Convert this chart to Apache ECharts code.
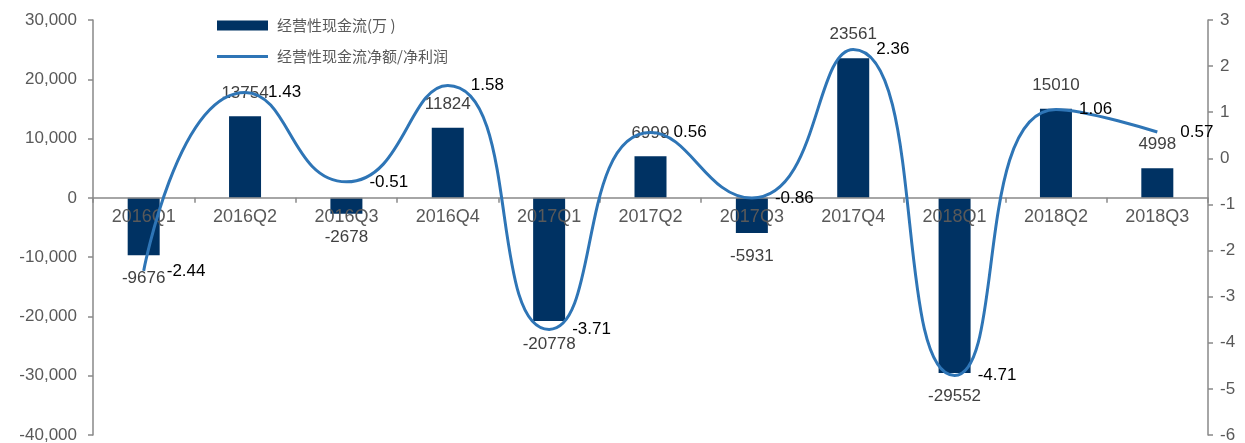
<!DOCTYPE html>
<html>
<head>
<meta charset="utf-8">
<script src="https://cdn.jsdelivr.net/npm/echarts@6/dist/echarts.min.js"></script>
<style>
html,body{margin:0;padding:0;background:#fff;}
#chart{width:1245px;height:443px;}
</style>
</head>
<body>
<div id="chart"></div>
<script>
const categories = ['2016Q1','2016Q2','2016Q3','2016Q4','2017Q1','2017Q2','2017Q3','2017Q4','2018Q1','2018Q2','2018Q3'];
const cashFlow = [-9676, 13754, -2678, 11824, -20778, 6999, -5931, 23561, -29552, 15010, 4998];
const ratio = [-2.44, 1.43, -0.51, 1.58, -3.71, 0.56, -0.86, 2.36, -4.71, 1.06, 0.57];
const seriesNames = ['经营性现金流(万 )', '经营性现金流净额/净利润'];
const leftMin = -40000, leftMax = 30000, leftStep = 10000;
const rightMin = -6, rightMax = 3, rightStep = 1;

const FONT = 'Liberation Sans, Arial, sans-serif';
const W = 1245, H = 443;
const gridTop = 20, gridBottom = 8;
const gridH = H - gridTop - gridBottom;
// place the category axis at the left axis' zero line
const zeroOffset = -gridH * (0 - leftMin) / (leftMax - leftMin);

const chart = echarts.init(document.getElementById('chart'));

const barData = cashFlow.map(v => ({
  value: v,
  label: { position: v >= 0 ? 'top' : 'bottom' }
}));

chart.setOption({
  animation: false,
  backgroundColor: '#fff',
  grid: { left: 93, right: 37, top: gridTop, bottom: gridBottom, containLabel: false, outerBoundsMode: 'none' },
  legend: {
    orient: 'vertical',
    left: 212,
    top: 13,
    itemWidth: 51,
    itemHeight: 10,
    itemGap: 16,
    data: [
      { name: seriesNames[0], icon: 'rect' },
      { name: seriesNames[1], icon: 'path://M0,0H51V3H0Z' }
    ],
    textStyle: {
      fontFamily: 'Noto Sans CJK SC',
      fontSize: 15,
      color: '#595959',
      padding: [0, 0, 0, 4]
    }
  },
  xAxis: {
    type: 'category',
    data: categories,
    position: 'bottom',
    offset: zeroOffset,
    z: 5,
    axisLine: { onZero: false, lineStyle: { color: '#898989', width: 1.5 } },
    axisTick: { show: true, alignWithLabel: false, length: 5, lineStyle: { color: '#898989', width: 1.5 } },
    axisLabel: { interval: 0, margin: 10, fontFamily: FONT, fontSize: 18, color: '#595959', hideOverlap: false },
    splitLine: { show: false }
  },
  yAxis: [
    {
      type: 'value',
      min: leftMin,
      max: leftMax,
      interval: leftStep,
      axisLine: { show: true, lineStyle: { color: '#898989', width: 1.5 } },
      axisTick: { show: true, length: 5, lineStyle: { color: '#898989', width: 1.5 } },
      axisLabel: {
        margin: 16,
        fontFamily: FONT, fontSize: 17, color: '#595959',
        formatter: v => v.toLocaleString('en-US')
      },
      splitLine: { show: false }
    },
    {
      type: 'value',
      min: rightMin,
      max: rightMax,
      interval: rightStep,
      position: 'right',
      axisLine: { show: true, lineStyle: { color: '#898989', width: 1.5 } },
      axisTick: { show: true, length: 5, lineStyle: { color: '#898989', width: 1.5 } },
      axisLabel: { margin: 12, fontFamily: FONT, fontSize: 17, color: '#595959' },
      splitLine: { show: false }
    }
  ],
  series: [
    {
      name: seriesNames[0],
      type: 'bar',
      yAxisIndex: 0,
      barWidth: 32,
      itemStyle: { color: '#003263' },
      label: {
        show: true,
        distance: 15,
        fontFamily: FONT,
        fontSize: 17,
        color: '#404040'
      },
      data: barData,
      z: 2
    },
    {
      name: seriesNames[1],
      type: 'line',
      yAxisIndex: 1,
      smooth: 0.55,
      symbol: 'circle',
      symbolSize: 0.1,
      showSymbol: true,
      lineStyle: { color: '#2E75B6', width: 3 },
      itemStyle: { color: '#2E75B6' },
      label: {
        show: true,
        position: 'right',
        distance: 23,
        fontFamily: FONT,
        fontSize: 17,
        color: '#000'
      },
      data: ratio,
      z: 6
    }
  ]
});
</script>
</body>
</html>
